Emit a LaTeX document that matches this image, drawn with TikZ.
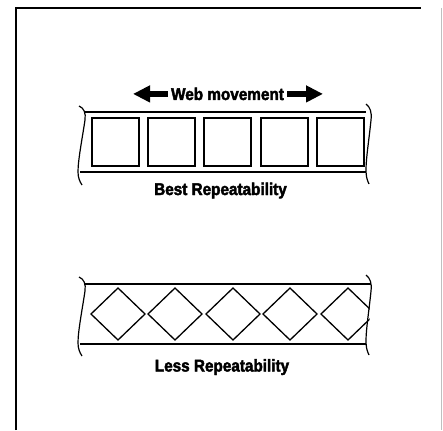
\documentclass[tikz,border=0pt]{standalone}
\usepackage{fontspec}
\setmainfont{Liberation Sans}
\newfontfamily\heavyfont[FakeBold=2.5,FakeStretch=0.9]{Liberation Sans}
\usetikzlibrary{arrows.meta}

\begin{document}
\begin{tikzpicture}[x=1pt,y=-1pt,
		band/.style={line width=1.4pt},
		cut/.style={line width=1.2pt},
		cell/.style={line width=1.3pt},
		caption/.style={font=\heavyfont\bfseries\fontsize{17}{17}\selectfont,inner sep=0pt,anchor=base},
		webarrow/.style={line width=6pt,-{Triangle[length=17pt,width=16pt]}}]
	\useasboundingbox (0,0) rectangle (443,430);
	% frame
		\draw[line width=2.4pt] (16,430) -- (16,8) -- (421,8);
		\draw[black!25,line width=0.6pt] (441,8) -- (441,430);
	% web movement
		\node[caption] (web) at (227.5,100) {Web movement};
		\coordinate (wl) at (133,94);
		\coordinate (wr) at (323,94);
		\draw[webarrow] ([xshift=-3pt]web.west) -- (web.west -| wl);
		\draw[webarrow] ([xshift=3pt]web.east) -- (web.east -| wr);
	% web edges, cut ends
		\draw[band] (85,112) -- (366,112);
		\draw[band] (80,172) -- (366,172);
		\draw[band] (85,284) -- (371,284);
		\draw[band] (80,344) -- (366,344);
		\foreach \dy in {0,171}{
			\draw[cut] (79,106+\dy) .. controls (84,108+\dy) and (86,113+\dy) .. (85,120+\dy)
				.. controls (82,140+\dy) and (78,160+\dy) .. (78,172+\dy)
				.. controls (78,178+\dy) and (80,182+\dy) .. (82,185+\dy);
			\draw[cut] (366,104+\dy) .. controls (370,107+\dy) and (372,112+\dy) .. (371,120+\dy)
				.. controls (369,140+\dy) and (366,158+\dy) .. (366,170+\dy)
				.. controls (366,176+\dy) and (367,180+\dy) .. (369,184+\dy);
		}
	% square cells
		\foreach \x in {92,148,204,261,317}
			\draw[cell] (\x,118) rectangle (\x+47,166);
		\node[caption] (best) at (220.5,195) {Best Repeatability};
	% diamond cells
	\begin{scope}
		\clip (80,270) rectangle (369.5,350);
		\foreach \x in {118,175,233,290,348}
			\draw[cell] (\x-27,314) -- (\x,288) -- (\x+27,314) -- (\x,340) -- cycle;
	\end{scope}
		\node[caption] (less) at (222,371.5) {Less Repeatability};
\end{tikzpicture}
\end{document}
